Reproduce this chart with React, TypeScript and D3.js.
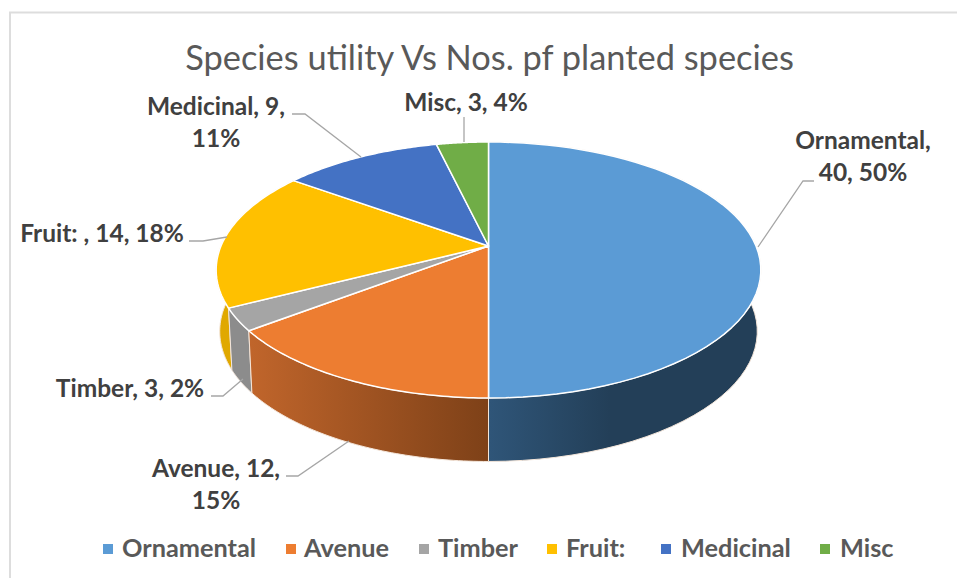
import React from "react";
import * as d3 from "d3";

const titleText = "Species utility Vs Nos. pf planted species";
const categories = ["Ornamental", "Avenue", "Timber", "Fruit:", "Medicinal", "Misc"];
const counts = [40, 12, 3, 14, 9, 3];
const sliceShares = [50, 14.6, 2.8, 17.6, 11.3, 3.7];
const colors = ["#5B9BD5", "#ED7D31", "#A5A5A5", "#FFC000", "#4472C4", "#70AD47"];
const wallFrom = ["#2F5578", "#C0652B", "#8C8C8C", "#E0A800", "#2F4F88", "#4F7A32"];
const wallTo = ["#233F58", "#7E4118", "#8C8C8C", "#E0A800", "#2F4F88", "#4F7A32"];
const labelLines = [
  ["Ornamental,", "40, 50%"],
  ["Avenue, 12,", "15%"],
  ["Timber, 3, 2%"],
  ["Fruit: , 14, 18%"],
  ["Medicinal, 9,", "11%"],
  ["Misc, 3, 4%"],
];
const labelAnchors: [number, number][] = [[863, 149], [216, 477], [130, 397], [102, 242], [216, 115], [466, 111]];
const leaderPaths: [number, number][][] = [
  [[814, 181], [803, 181], [758, 247]],
  [[286, 476], [298, 476], [349, 441]],
  [[211, 396], [223, 396], [243, 379]],
  [[189, 241], [203, 241], [227, 237]],
  [[292, 114], [305, 114], [361, 157]],
  [[464, 117], [464, 142]],
];
const legendSwatchX = [103, 286, 419, 547, 661, 820];
const legendTextX = [122, 304, 438, 566, 681, 840];

const W = 957, H = 578;
const cx = 488.5, topCy = 246, k = -0.1875;
const topR = 267.5, topA = 123.5;
const botCy = 307, botR = 264, botA = 125.5;

const project = (theta: number, R: number, A: number, cy: number): [number, number] => {
  const u = Math.sin(theta), v = -Math.cos(theta);
  const d = 1 + k * v;
  return [cx + (R * u) / d, cy + (A * v) / d];
};
const pts = (a0: number, a1: number, R: number, A: number, cy: number) =>
  d3.range(0, 61).map((i) => project(a0 + ((a1 - a0) * i) / 60, R, A, cy));

export default function App() {
  const arcs = d3.pie<number>().sort(null)(sliceShares);
  const line = d3.line();
  const wallOrder = [0, 3, 2, 1];
  return (
    <svg width={W} height={H} style={{ position: "fixed", left: 0, top: 0, display: "block", background: "#fff", fontFamily: "Lato, sans-serif" }}>
      <defs>
        {categories.map((c, i) => (
          <linearGradient key={c} id={`wall${i}`} gradientUnits="userSpaceOnUse"
            x1={i === 0 ? 490 : 250} x2={i === 0 ? 610 : 488} y1={0} y2={0}>
            <stop offset="0" stopColor={wallFrom[i]} />
            <stop offset="1" stopColor={wallTo[i]} />
          </linearGradient>
        ))}
      </defs>
      <path d={line([[10, H], [10, 12.5], [W, 12.5]])!} fill="none" stroke="#DDDDDD" strokeWidth={2} />
      <text x={489.5} y={70} textAnchor="middle" fontSize={34.4} fill="#595959">{titleText}</text>

      {wallOrder.map((i) => {
        const a = arcs[i];
        const upper = pts(a.startAngle, a.endAngle, topR, topA, topCy);
        const lower = pts(a.startAngle, a.endAngle, botR, botA, botCy).reverse();
        return <path key={i} d={line([...upper, ...lower])! + "Z"} fill={`url(#wall${i})`} stroke="#F4E6DA" strokeWidth={1} strokeLinejoin="round" />;
      })}

      {arcs.map((a, i) => {
        const edge = pts(a.startAngle, a.endAngle, topR, topA, topCy);
        return <path key={i} d={line([[cx, topCy], ...edge])! + "Z"} fill={colors[i]} stroke="#fff" strokeWidth={1.5} strokeLinejoin="round" />;
      })}

      {leaderPaths.map((p, i) => (
        <path key={i} d={line(p)!} fill="none" stroke="#A6A6A6" strokeWidth={1.3} />
      ))}
      {labelLines.map((lines, i) => (
        <text key={i} textAnchor="middle" fontSize={24.5} fontWeight={700} fill="#404040">
          {lines.map((t, j) => (
            <tspan key={j} x={labelAnchors[i][0]} y={labelAnchors[i][1] + j * 32}>{t}</tspan>
          ))}
        </text>
      ))}
      {categories.map((c, i) => (
        <g key={c}>
          <rect x={legendSwatchX[i]} y={544} width={10} height={10} fill={colors[i]} />
          <text x={legendTextX[i]} y={557} fontSize={25.3} fontWeight={700} fill="#595959">{c}</text>
        </g>
      ))}
      <desc>{counts.join(",")}</desc>
    </svg>
  );
}
